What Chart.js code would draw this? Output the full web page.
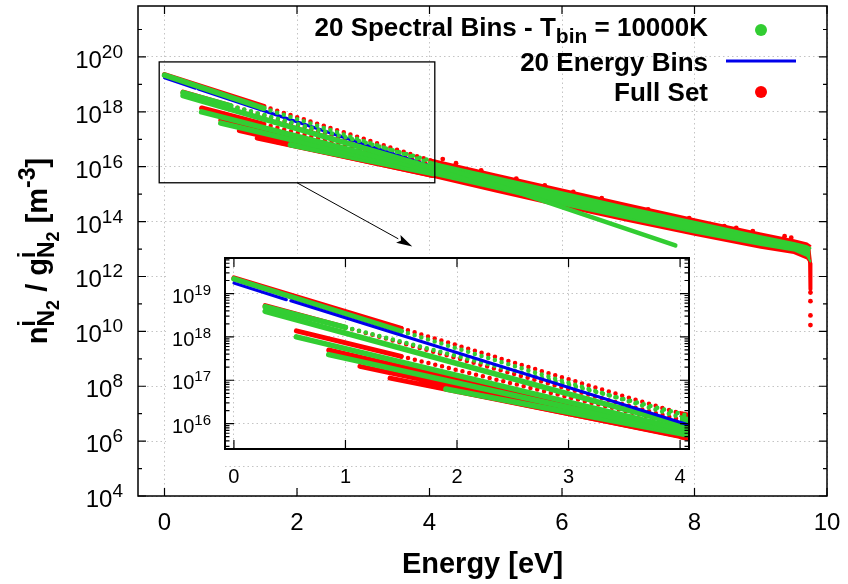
<!DOCTYPE html>
<html>
<head>
<meta charset="utf-8">
<script src="https://cdn.jsdelivr.net/npm/chart.js@4.4.1/dist/chart.umd.min.js"></script>
<style>
  html, body { margin: 0; padding: 0; background: #fff; }
  #wrap { position: relative; width: 848px; height: 584px; }
  #main { position: absolute; left: 0; top: 0; }
  #inset { position: absolute; left: 166px; top: 254px; background: #fff; }
</style>
</head>
<body>
<div id="wrap">
  <canvas id="main" width="848" height="584"></canvas>
  <canvas id="inset" width="528" height="234"></canvas>
</div>
<script>
"use strict";

// ---------- data (energy in eV, population in m^-3) ----------

// Full Set (red): rotational ladders, start / end of dense part / end of sparse tail
const fullLadderE0 = [0, 0.28, 0.56, 0.85, 1.13, 1.40, 1.67];
const fullLadderN0 = [2.29e19, 5.25e18, 1.38e18, 5.0e17, 2.09e17, 1.12e17, 8.5e16];
const fullLadderE1 = [1.5, 1.0, 1.5, 4.05, 4.05, 4.05, 4.05];
const fullLadderN1 = [1.58e18, 1.66e18, 3.55e17, 6.3e15, 5.25e15, 4.9e15, 4.8e15];
const fullLadderE2 = [4.05, 4.05, 4.05, null, null, null, null];
const fullLadderN2 = [1.58e16, 1.12e16, 8.9e15, null, null, null, null];

// 20 Spectral Bins (green)
const specLadderE0 = [0, 0.28, 0.28, 0.56, 0.85, 1.9];
const specLadderN0 = [2.19e19, 5.0e18, 3.9e18, 1.0e18, 3.9e17, 6.3e16];
const specLadderE1 = [1.5, 1.0, 4.05, 4.05, 4.05, 4.05];
const specLadderN1 = [1.35e18, 1.66e18, 8.9e15, 7.1e15, 6.0e15, 5.6e15];
const specLadderE2 = [4.05, 4.05, null, null, null, null];
const specLadderN2 = [1.29e16, 1.58e16, null, null, null, null];
// lowest ladder of the spectral bins leaving the band
const specBranchE = [4.05, 7.71];
const specBranchN = [1.29e16, 1.35e13];

// 20 Energy Bins (blue)
const energyBinsE = [0, 0.47, 0.49, 0.51, 4.05, 6.0, 8.0, 9.7];
const energyBinsN = [1.74e19, 7.2e18, null, 6.8e18, 9.8e15, 7.1e14, 6.3e13, 7.9e12];

// dense band above 4 eV
const bandE = [4.0, 5.0, 6.0, 7.0, 8.0, 9.0, 9.5, 9.7, 9.75];
const fullBandHi = [1.86e16, 5.25e15, 1.48e15, 4.2e14, 1.23e14, 3.7e13, 2.1e13, 1.58e13, 1.32e13];
const fullBandLo = [4.6e15, 1.26e15, 3.55e14, 1.05e14, 3.3e13, 1.12e13, 7.1e12, 4.5e12, 3.2e12];
const specBandHi = [1.48e16, 4.2e15, 1.17e15, 3.3e14, 9.8e13, 2.95e13, 1.66e13, 1.26e13, 1.07e13];
const specBandLo = [5.5e15, 1.58e15, 4.2e14, 1.26e14, 4.0e13, 1.41e13, 8.9e12, 5.6e12, 3.55e12];

// Full Set: drop at the dissociation limit and scattered levels
const fullDropE = [9.72, 9.745, 9.75];
const fullDropN = [1.0e13, 3.0e12, 3.4e11];
const fullScatterE = [4.2, 4.4, 4.78, 5.31, 5.74, 6.17, 6.6, 7.30, 7.92, 8.45, 8.63, 8.88, 9.36, 9.46, 9.46,
                      9.75, 9.75, 9.75, 9.75];
const fullScatterN = [1.9e16, 1.35e16, 7.4e15, 3.7e15, 2.1e15, 1.2e15, 7.1e14, 2.8e14, 1.35e14, 6.8e13,
                      5.9e13, 4.5e13, 2.95e13, 2.6e13, 1.9e13, 2.6e11, 1.26e11, 3.8e10, 1.7e10];

// axes
const mainXTicks = [0, 2, 4, 6, 8, 10];
const mainYTickExps = [4, 5, 6, 7, 8, 9, 10, 11, 12, 13, 14, 15, 16, 17, 18, 19, 20, 21];
const mainYLabelExps = [4, 6, 8, 10, 12, 14, 16, 18, 20];
const insetXTicks = [0, 1, 2, 3, 4];
const insetYExps = [15, 16, 17, 18, 19];
const insetYLabelExps = [16, 17, 18, 19];
const minorMantissas = [2, 3, 4, 5, 6, 7, 8, 9];
const insetXRange = [-0.08, 4.08];
const insetYRange = [2.6e15, 6.6e19];

const GREEN = 'rgb(50,205,50)';
const RED = 'rgb(255,0,0)';
const BLUE = 'rgb(0,0,235)';
const GRID = '#c4c4c4';
const FONT = '"Liberation Sans", Arial, Helvetica, sans-serif';

// ---------- helpers ----------
function pts(es, ns) {
    return es.map(function(e, i) { return { x: e, y: ns[i] }; });
}

function seg(es, ns, color, width, dash, order) {
    return {
        data: pts(es, ns),
        borderColor: color,
        backgroundColor: color,
        borderWidth: width,
        borderDash: dash || [],
        borderCapStyle: 'round',
        borderJoinStyle: 'round',
        pointRadius: 0,
        fill: false,
        tension: 0,
        spanGaps: false,
        order: order
    };
}

function ladders(E0, N0, E1, N1, E2, N2, color, width, order) {
    const sets = [];
    E0.forEach(function(e, i) {
        sets.push(seg([e, E1[i]], [N0[i], N1[i]], color, width, null, order));
        if (E2[i] !== null) {
            sets.push(seg([E1[i], E2[i]], [N1[i], N2[i]], color, 4.5, [0, 7], order));
        }
    });
    return sets;
}

function band(es, lo, hi, color, order) {
    const a = seg(es, lo, color, 2, null, order);
    const b = seg(es, hi, color, 2, null, order);
    b.fill = '-1';
    return [a, b];
}

function buildDatasets(blueOrder) {
    let sets = [];
    // green
    sets = sets.concat(ladders(specLadderE0, specLadderN0, specLadderE1, specLadderN1,
                               specLadderE2, specLadderN2, GREEN, 5.5, 1));
    sets.push(seg(specBranchE, specBranchN, GREEN, 4.5, null, 1));
    sets = sets.concat(band(bandE, specBandLo, specBandHi, GREEN, 1));
    // blue
    sets.push(seg(energyBinsE, energyBinsN, BLUE, 3, null, blueOrder));
    // red
    sets = sets.concat(ladders(fullLadderE0, fullLadderN0, fullLadderE1, fullLadderN1,
                               fullLadderE2, fullLadderN2, RED, 5, 3));
    sets = sets.concat(band(bandE, fullBandLo, fullBandHi, RED, 3));
    sets.push(seg(fullDropE, fullDropN, RED, 4, null, 3));
    sets.push({
        data: pts(fullScatterE, fullScatterN),
        showLine: false,
        pointRadius: 2.4,
        pointBorderWidth: 0,
        pointBackgroundColor: RED,
        borderColor: RED,
        order: 3
    });
    return sets;
}

function isPow10(v) {
    const l = Math.log10(v);
    return Math.abs(l - Math.round(l)) < 1e-6;
}

function drawRich(ctx, parts, x, y, align) {
    let w = 0;
    parts.forEach(function(p) {
        ctx.font = (p.bold ? 'bold ' : '') + p.size + 'px ' + FONT;
        p.w = ctx.measureText(p.t).width;
        if (p.adv !== false) w += p.w;
    });
    let cx = align === 'right' ? x - w : (align === 'center' ? x - w / 2 : x);
    ctx.textAlign = 'left';
    ctx.textBaseline = 'alphabetic';
    parts.forEach(function(p) {
        ctx.font = (p.bold ? 'bold ' : '') + p.size + 'px ' + FONT;
        ctx.fillText(p.t, cx, y + (p.dy || 0));
        if (p.adv !== false) cx += p.w;
    });
}

function powLabel(exp, size, supSize, rise) {
    return [{ t: '10', size: size }, { t: String(exp), size: supSize, dy: -rise }];
}

// ---------- main chart decorations ----------
const mainDecor = {
    id: 'mainDecor',
    afterDraw: function(chart) {
        const ctx = chart.ctx;
        const a = chart.chartArea;
        const x = chart.scales.x;
        const y = chart.scales.y;
        ctx.save();
        ctx.fillStyle = '#000';
        ctx.strokeStyle = '#000';

        // zoom box
        const bx0 = x.getPixelForValue(insetXRange[0]);
        const bx1 = x.getPixelForValue(insetXRange[1]);
        const by0 = y.getPixelForValue(insetYRange[1]);
        const by1 = y.getPixelForValue(insetYRange[0]);
        ctx.lineWidth = 1.3;
        ctx.strokeRect(bx0, by0, bx1 - bx0, by1 - by0);

        // arrow from the box to the inset
        const ax0 = x.getPixelForValue(2.0), ay0 = by1;
        const ax1 = x.getPixelForValue(3.74), ay1 = y.getPixelForValue(1.23e13);
        const ang = Math.atan2(ay1 - ay0, ax1 - ax0);
        const hl = 16, hw = 4.5;
        ctx.lineWidth = 1;
        ctx.beginPath();
        ctx.moveTo(ax0, ay0);
        ctx.lineTo(ax1 - hl * Math.cos(ang), ay1 - hl * Math.sin(ang));
        ctx.stroke();
        ctx.beginPath();
        ctx.moveTo(ax1, ay1);
        ctx.lineTo(ax1 - hl * Math.cos(ang) + hw * Math.sin(ang), ay1 - hl * Math.sin(ang) - hw * Math.cos(ang));
        ctx.lineTo(ax1 - hl * 0.8 * Math.cos(ang), ay1 - hl * 0.8 * Math.sin(ang));
        ctx.lineTo(ax1 - hl * Math.cos(ang) - hw * Math.sin(ang), ay1 - hl * Math.sin(ang) + hw * Math.cos(ang));
        ctx.closePath();
        ctx.fill();

        // frame and inward ticks
        ctx.lineWidth = 1.5;
        ctx.strokeRect(a.left, a.top, a.right - a.left, a.bottom - a.top);
        ctx.lineWidth = 1.2;
        ctx.beginPath();
        mainXTicks.forEach(function(v) {
            const px = x.getPixelForValue(v);
            ctx.moveTo(px, a.bottom); ctx.lineTo(px, a.bottom - 8);
            ctx.moveTo(px, a.top); ctx.lineTo(px, a.top + 8);
        });
        mainYTickExps.forEach(function(e) {
            const py = y.getPixelForValue(Math.pow(10, e));
            const len = e % 2 === 0 ? 8 : 4;
            ctx.moveTo(a.left, py); ctx.lineTo(a.left + len, py);
            ctx.moveTo(a.right, py); ctx.lineTo(a.right - len, py);
        });
        ctx.stroke();

        // tick labels
        mainYLabelExps.forEach(function(e) {
            const py = y.getPixelForValue(Math.pow(10, e));
            drawRich(ctx, powLabel(e, 24, 19, 10), a.left - 15, py + 11, 'right');
        });
        ctx.font = '24px ' + FONT;
        ctx.textAlign = 'center';
        mainXTicks.forEach(function(v) {
            ctx.fillText(String(v), x.getPixelForValue(v), 530);
        });

        // axis titles
        drawRich(ctx, [{ t: 'Energy [eV]', size: 29, bold: true }], (a.left + a.right) / 2, 573, 'center');
        ctx.save();
        ctx.translate(47, (a.top + a.bottom) / 2);
        ctx.rotate(-Math.PI / 2);
        drawRich(ctx, [
            { t: 'n', size: 29, bold: true },
            { t: 'i', size: 23, bold: true, dy: -12, adv: false },
            { t: 'N', size: 23, bold: true, dy: 7 },
            { t: '2', size: 18, bold: true, dy: 12 },
            { t: ' / g', size: 29, bold: true },
            { t: 'i', size: 23, bold: true, dy: -12, adv: false },
            { t: 'N', size: 23, bold: true, dy: 7 },
            { t: '2', size: 18, bold: true, dy: 12 },
            { t: ' [m', size: 29, bold: true },
            { t: '-3', size: 23, bold: true, dy: -12 },
            { t: ']', size: 29, bold: true }
        ], 0, 0, 'center');
        ctx.restore();

        // legend
        const lx = 708;
        drawRich(ctx, [
            { t: '20 Spectral Bins - T', size: 26, bold: true },
            { t: 'bin', size: 21, bold: true, dy: 7 },
            { t: ' = 10000K', size: 26, bold: true }
        ], lx, 36, 'right');
        drawRich(ctx, [{ t: '20 Energy Bins', size: 26, bold: true }], lx, 71, 'right');
        drawRich(ctx, [{ t: 'Full Set', size: 26, bold: true }], lx, 101, 'right');
        ctx.fillStyle = GREEN;
        ctx.beginPath(); ctx.arc(761, 30, 6, 0, 2 * Math.PI); ctx.fill();
        ctx.fillStyle = RED;
        ctx.beginPath(); ctx.arc(761, 92, 6, 0, 2 * Math.PI); ctx.fill();
        ctx.strokeStyle = BLUE;
        ctx.lineWidth = 3;
        ctx.beginPath(); ctx.moveTo(726, 61); ctx.lineTo(796, 61); ctx.stroke();
        ctx.restore();
    }
};

// ---------- inset decorations ----------
const insetDecor = {
    id: 'insetDecor',
    afterDraw: function(chart) {
        const ctx = chart.ctx;
        const a = chart.chartArea;
        const x = chart.scales.x;
        const y = chart.scales.y;
        ctx.save();
        ctx.fillStyle = '#000';
        ctx.strokeStyle = '#000';
        ctx.lineWidth = 2;
        ctx.strokeRect(a.left, a.top, a.right - a.left, a.bottom - a.top);
        ctx.lineWidth = 1.2;
        ctx.beginPath();
        insetXTicks.forEach(function(v) {
            const px = x.getPixelForValue(v);
            ctx.moveTo(px, a.bottom); ctx.lineTo(px, a.bottom - 9);
            ctx.moveTo(px, a.top); ctx.lineTo(px, a.top + 9);
        });
        y.ticks.forEach(function(t) {
            if (t.value < insetYRange[0] || t.value > insetYRange[1]) return;
            const py = y.getPixelForValue(t.value);
            const len = isPow10(t.value) ? 9 : 4.5;
            ctx.moveTo(a.left, py); ctx.lineTo(a.left + len, py);
            ctx.moveTo(a.right, py); ctx.lineTo(a.right - len, py);
        });
        ctx.stroke();

        insetYLabelExps.forEach(function(e) {
            const py = y.getPixelForValue(Math.pow(10, e));
            drawRich(ctx, powLabel(e, 20, 15, 8), a.left - 14, py + 9, 'right');
        });
        ctx.font = '20px ' + FONT;
        ctx.textAlign = 'center';
        insetXTicks.forEach(function(v) {
            ctx.fillText(String(v), x.getPixelForValue(v), a.bottom + 34);
        });
        ctx.restore();
    }
};

function gridColor(c) {
    if (!c.tick) return 'rgba(0,0,0,0)';
    return isPow10(c.tick.value) ? GRID : 'rgba(0,0,0,0)';
}

// ---------- main chart ----------
new Chart(document.getElementById('main'), {
    type: 'line',
    data: { datasets: buildDatasets(2) },
    options: {
        responsive: false,
        animation: false,
        devicePixelRatio: 1,
        events: [],
        layout: { padding: { left: 138, top: 6, right: 21, bottom: 88 } },
        plugins: { legend: { display: false }, tooltip: { enabled: false } },
        scales: {
            x: {
                type: 'linear',
                min: -0.4,
                max: 10,
                afterBuildTicks: function(s) { s.ticks = mainXTicks.map(function(v) { return { value: v }; }); },
                ticks: { display: false },
                grid: { color: GRID, lineWidth: 1, drawTicks: false },
                border: { display: false, dash: [1.5, 3] }
            },
            y: {
                type: 'logarithmic',
                min: 1e4,
                max: 7.2e21,
                afterBuildTicks: function(s) {
                    s.ticks = mainYTickExps.map(function(e) {
                        return { value: Math.pow(10, e) };
                    });
                },
                ticks: { display: false },
                grid: {
                    color: function(c) {
                        if (!c.tick) return 'rgba(0,0,0,0)';
                        return Math.round(Math.log10(c.tick.value)) % 2 === 0 ? GRID : 'rgba(0,0,0,0)';
                    },
                    lineWidth: 1,
                    drawTicks: false
                },
                border: { display: false, dash: [1.5, 3] }
            }
        }
    },
    plugins: [mainDecor]
});

// ---------- inset (zoom on 0-4 eV) ----------
new Chart(document.getElementById('inset'), {
    type: 'line',
    data: { datasets: buildDatasets(0) },
    options: {
        responsive: false,
        animation: false,
        devicePixelRatio: 1,
        events: [],
        layout: { padding: { left: 59, top: 1, right: 5, bottom: 39 } },
        plugins: { legend: { display: false }, tooltip: { enabled: false } },
        scales: {
            x: {
                type: 'linear',
                min: insetXRange[0],
                max: insetXRange[1],
                afterBuildTicks: function(s) { s.ticks = insetXTicks.map(function(v) { return { value: v }; }); },
                ticks: { display: false },
                grid: { color: GRID, lineWidth: 1, drawTicks: false },
                border: { display: false, dash: [1.5, 3] }
            },
            y: {
                type: 'logarithmic',
                min: insetYRange[0],
                max: insetYRange[1],
                afterBuildTicks: function(s) {
                    const list = [];
                    insetYExps.forEach(function(e) {
                        list.push({ value: Math.pow(10, e) });
                        minorMantissas.forEach(function(m) { list.push({ value: m * Math.pow(10, e) }); });
                    });
                    s.ticks = list;
                },
                ticks: { display: false },
                grid: { color: gridColor, lineWidth: 1, drawTicks: false },
                border: { display: false, dash: [1.5, 3] }
            }
        }
    },
    plugins: [insetDecor]
});
</script>
</body>
</html>
